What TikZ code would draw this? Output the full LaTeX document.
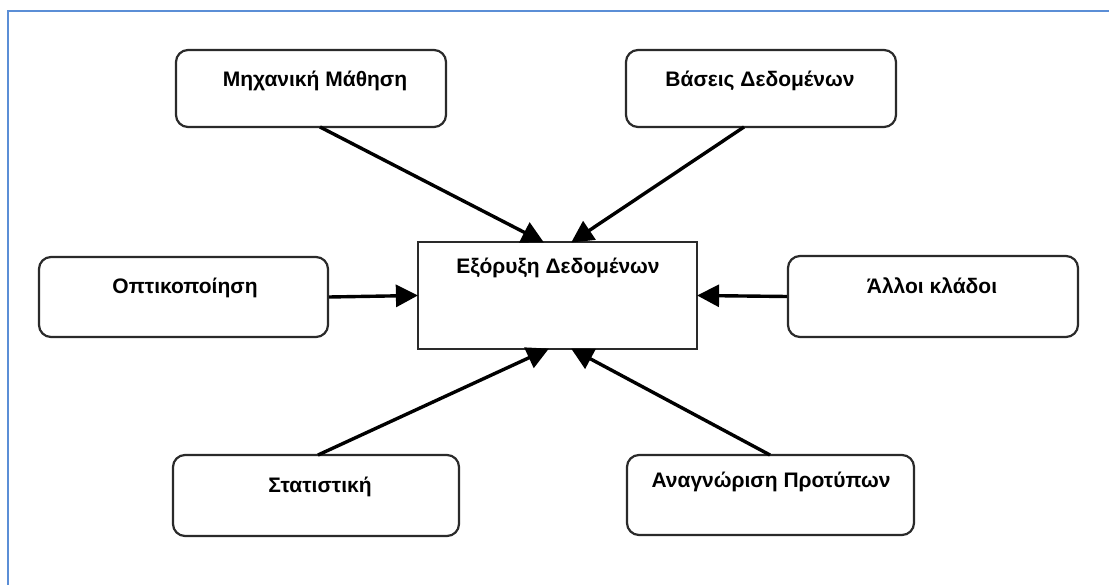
\documentclass[tikz,border=0pt]{standalone}
\usepackage{fontspec}
\setmainfont{Liberation Sans}
\usetikzlibrary{arrows.meta}
\definecolor{frameblue}{HTML}{5B8ED6}
\definecolor{boxline}{HTML}{2A2A2A}
\tikzset{
  field/.style={draw=boxline, line width=2.2pt, rounded corners=12pt, fill=white},
  core/.style={draw=boxline, line width=2.2pt, fill=white},
  lbl/.style={anchor=base, inner sep=0pt, font=\bfseries\fontsize{21}{24}\selectfont},
  feed/.style={line width=3.4pt, -{Triangle[length=22pt,width=22pt]}, shorten >=-1pt}
}
\begin{document}
\begin{tikzpicture}[x=1pt,y=-1pt]
  \useasboundingbox (0,0) rectangle (1109,585);
  % page frame, cut off at right and bottom
  \draw[frameblue, line width=2pt] (8,585) -- (8,11) -- (1109,11);

  % boxes
  \node[field, minimum width=270pt, minimum height=77pt] (ml) at (311,88.5) {};
  \node[field, minimum width=270pt, minimum height=77pt] (db) at (761,88.5) {};
  \node[field, minimum width=289pt, minimum height=80pt] (vis) at (183.5,297) {};
  \node[field, minimum width=290pt, minimum height=81pt] (oth) at (933,296.5) {};
  \node[field, minimum width=286pt, minimum height=81pt] (st) at (316,495.5) {};
  \node[field, minimum width=287pt, minimum height=80pt] (pr) at (770.5,495) {};
  \node[core, minimum width=279pt, minimum height=107pt] (dm) at (557.5,295.5) {};

  % labels
  \node[lbl] (tml) at (315,87) {Μηχανική Μάθηση};
  \node[lbl] (tdb) at (760,87) {Βάσεις Δεδομένων};
  \node[lbl] (tvis) at (185,294) {Οπτικοποίηση};
  \node[lbl] (toth) at (932,294) {Άλλοι κλάδοι};
  \node[lbl] (tst) at (320,492) {Στατιστική};
  \node[lbl] (tpr) at (771,487) {Αναγνώριση Προτύπων};
  \node[lbl] (tdm) at (558,274) {Εξόρυξη Δεδομένων};

  % connector anchors on box edges
  \coordinate (mlo) at (320,127);
  \coordinate (dbo) at (744,127);
  \coordinate (sto) at (318,455);
  \coordinate (pro) at (770,455);
  \coordinate (dmtl) at (543,242);
  \coordinate (dmtr) at (572,242);
  \coordinate (dmbl) at (548,349);
  \coordinate (dmbr) at (572,349);

  % arrows into the central box
  \draw[feed] (mlo) -- (dmtl);
  \draw[feed] (dbo) -- (dmtr);
  \draw[feed] (sto) -- (dmbl);
  \draw[feed] (pro) -- (dmbr);
  \draw[feed] (vis.east) -- (dm.west);
  \draw[feed] (oth.west) -- (dm.east);
\end{tikzpicture}
\end{document}
